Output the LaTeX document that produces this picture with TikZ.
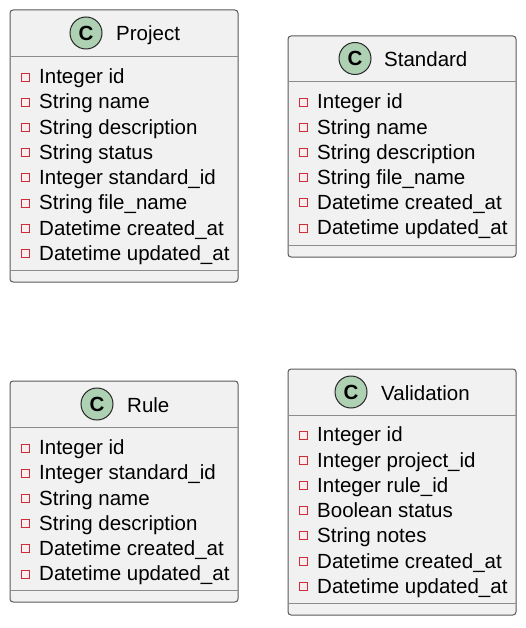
\documentclass[tikz,border=0pt]{standalone}
\usepackage{fontspec}
\setmainfont{Liberation Sans}
\usetikzlibrary{positioning, calc}
\definecolor{boxfill}{RGB}{241, 241, 241}
\definecolor{boxline}{RGB}{89, 89, 89}
\definecolor{sepline}{RGB}{140, 140, 140}
\definecolor{circlefill}{RGB}{173, 209, 178}
\definecolor{fieldred}{RGB}{205, 45, 55}
\definecolor{fieldfill}{RGB}{250, 238, 238}
\tikzstyle{class_box} = [rectangle, rounded corners=3pt, minimum width=228pt, inner sep=0pt, fill=boxfill, draw=boxline, line width=1pt]
\tikzstyle{class_icon} = [circle, minimum size=32pt, inner sep=0pt, fill=circlefill, draw=black!85, line width=1pt, font=\fontsize{20.5}{20.5}\selectfont\bfseries]
\tikzstyle{class_title} = [inner sep=0pt, anchor=base west, font=\fontsize{20.5}{24}\selectfont, black]
\tikzstyle{field_text} = [inner sep=0pt, anchor=base west, font=\fontsize{20.5}{24}\selectfont, black]
\tikzstyle{field_mark} = [rectangle, minimum size=8pt, inner sep=0pt, fill=fieldfill, draw=fieldred, line width=1.5pt]
\tikzstyle{sep} = [sepline, line width=1.2pt]

\begin{document}
\begin{tikzpicture}[x=1pt, y=-1pt]
\useasboundingbox (0,0) rectangle (526,628);

% Class boxes
\node[class_box, minimum height=272pt] (project) at (124,146) {};
\node[class_box, minimum height=221pt] (standard) at (402,146.5) {};
\node[class_box, minimum height=221pt] (rule) at (124,491.5) {};
\node[class_box, minimum height=246pt] (validation) at (402,492) {};

% Header and footer lines
\draw[sep] (10,56.5) -- (238,56.5) (10,270.5) -- (238,270.5);
\draw[sep] (288,81.5) -- (516,81.5) (288,245.5) -- (516,245.5);
\draw[sep] (10,427.5) -- (238,427.5) (10,590.5) -- (238,590.5);
\draw[sep] (288,415.5) -- (516,415.5) (288,603.5) -- (516,603.5);

% Icons and titles
\node[class_icon] (projecticon) at (86,33) {C};
\node[class_title] (projecttitle) at (116,40.7) {Project};
\node[class_icon] (standardicon) at (355,58.5) {C};
\node[class_title] (standardtitle) at (384,66.5) {Standard};
\node[class_icon] (ruleicon) at (97,404) {C};
\node[class_title] (ruletitle) at (127,412) {Rule};
\node[class_icon] (validationicon) at (351,392) {C};
\node[class_title] (validationtitle) at (381,400) {Validation};

% Fields of Project
\foreach \name [count=\i from 0] in {Integer id, String name, String description, String status, Integer standard\_id, String file\_name, Datetime created\_at, Datetime updated\_at} {
  \node[field_mark] (projectmark\i) at (25.5,{round(76.6+25.2*\i)+0.5}) {};
  \node[field_text] (projectfield\i) at (39,83.8+25.2*\i) {\name};
}

% Fields of Standard
\foreach \name [count=\i from 0] in {Integer id, String name, String description, String file\_name, Datetime created\_at, Datetime updated\_at} {
  \node[field_mark] (standardmark\i) at (303.5,{round(101.6+25.2*\i)+0.5}) {};
  \node[field_text] (standardfield\i) at (317,108.9+25.2*\i) {\name};
}

% Fields of Rule
\foreach \name [count=\i from 0] in {Integer id, Integer standard\_id, String name, String description, Datetime created\_at, Datetime updated\_at} {
  \node[field_mark] (rulemark\i) at (25.5,{round(447.6+25.2*\i)+0.5}) {};
  \node[field_text] (rulefield\i) at (39,454.6+25.2*\i) {\name};
}

% Fields of Validation
\foreach \name [count=\i from 0] in {Integer id, Integer project\_id, Integer rule\_id, Boolean status, String notes, Datetime created\_at, Datetime updated\_at} {
  \node[field_mark] (validationmark\i) at (303.5,{round(434.6+25.2*\i)+0.5}) {};
  \node[field_text] (validationfield\i) at (317,441.9+25.25*\i) {\name};
}

\end{tikzpicture}
\end{document}
